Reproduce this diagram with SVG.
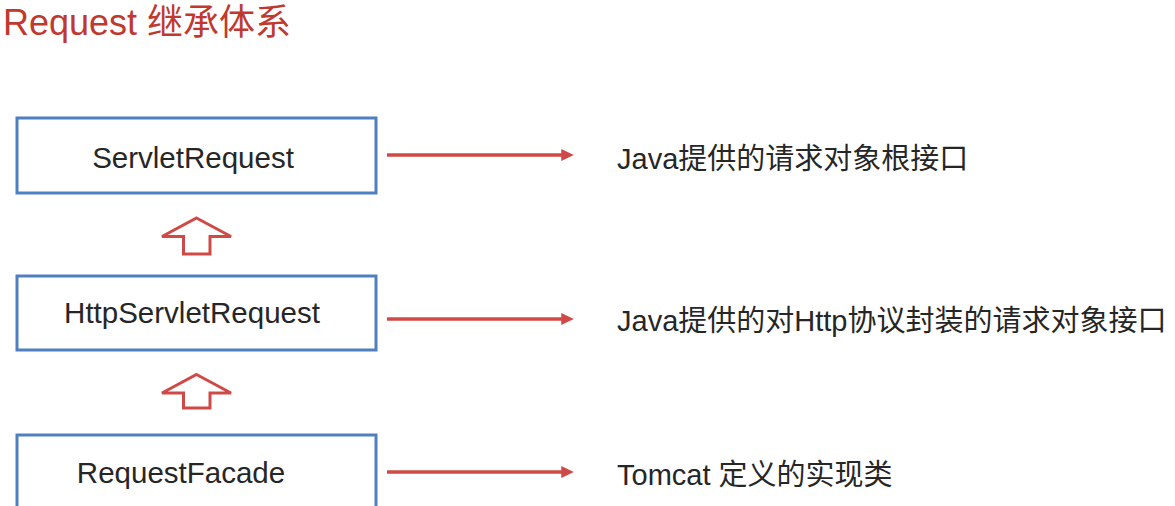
<svg xmlns="http://www.w3.org/2000/svg" width="1175" height="506" viewBox="0 0 1175 506">
<defs>
<style>
.box{fill:#ffffff;stroke:#4f7fc0;stroke-width:3}
.lbl{font-family:"Liberation Sans","Noto Sans CJK SC",sans-serif;font-size:29.5px;fill:#262626;text-anchor:middle}
.desc{font-family:"Liberation Sans","Noto Sans CJK SC",sans-serif;font-size:29px;fill:#262626}
.title{font-family:"Liberation Sans","Noto Sans CJK SC",sans-serif;font-size:36px;fill:#c0392f}
.conn{stroke:#cf4a47;stroke-width:3.5;fill:none}
.up{fill:#ffffff;stroke:#cf4a47;stroke-width:3;stroke-linejoin:miter}
</style>
<marker id="ah" markerWidth="4" markerHeight="4" refX="0.5" refY="2" orient="auto" markerUnits="strokeWidth">
<path d="M0,0.3 L3.6,2 L0,3.7 Z" fill="#cf4a47"/>
</marker>
</defs>
<rect width="1175" height="506" fill="#ffffff"/>
<text class="title" x="3" y="35">Request 继承体系</text>
<g id="node-servletrequest">
<rect class="box" x="17" y="118" width="359" height="75"/>
<text class="lbl" x="193" y="168">ServletRequest</text>
</g>
<g id="node-httpservletrequest">
<rect class="box" x="17" y="276" width="359" height="74"/>
<text class="lbl" x="192" y="323">HttpServletRequest</text>
</g>
<g id="node-requestfacade">
<rect class="box" x="17" y="435" width="359" height="80"/>
<text class="lbl" x="181" y="483">RequestFacade</text>
</g>
<g id="desc-servletrequest">
<text class="desc" x="617" y="169">Java提供的请求对象根接口</text>
</g>
<g id="desc-httpservletrequest">
<text class="desc" x="617" y="331">Java提供的对Http协议封装的请求对象接口</text>
</g>
<g id="desc-requestfacade">
<text class="desc" x="617" y="485">Tomcat 定义的实现类</text>
</g>
<g id="connectors">
<line class="conn" x1="387" y1="155" x2="563" y2="155" marker-end="url(#ah)"/>
<line class="conn" x1="387" y1="319" x2="563" y2="319" marker-end="url(#ah)"/>
<line class="conn" x1="387" y1="472" x2="563" y2="472" marker-end="url(#ah)"/>
<polygon class="up" points="196.5,218 231,236.5 210,236.5 210,254 183.5,254 183.5,236.5 162,236.5"/>
<polygon class="up" points="196.5,374.5 231,393 210,393 210,408 183.5,408 183.5,393 162,393"/>
</g>
</svg>
